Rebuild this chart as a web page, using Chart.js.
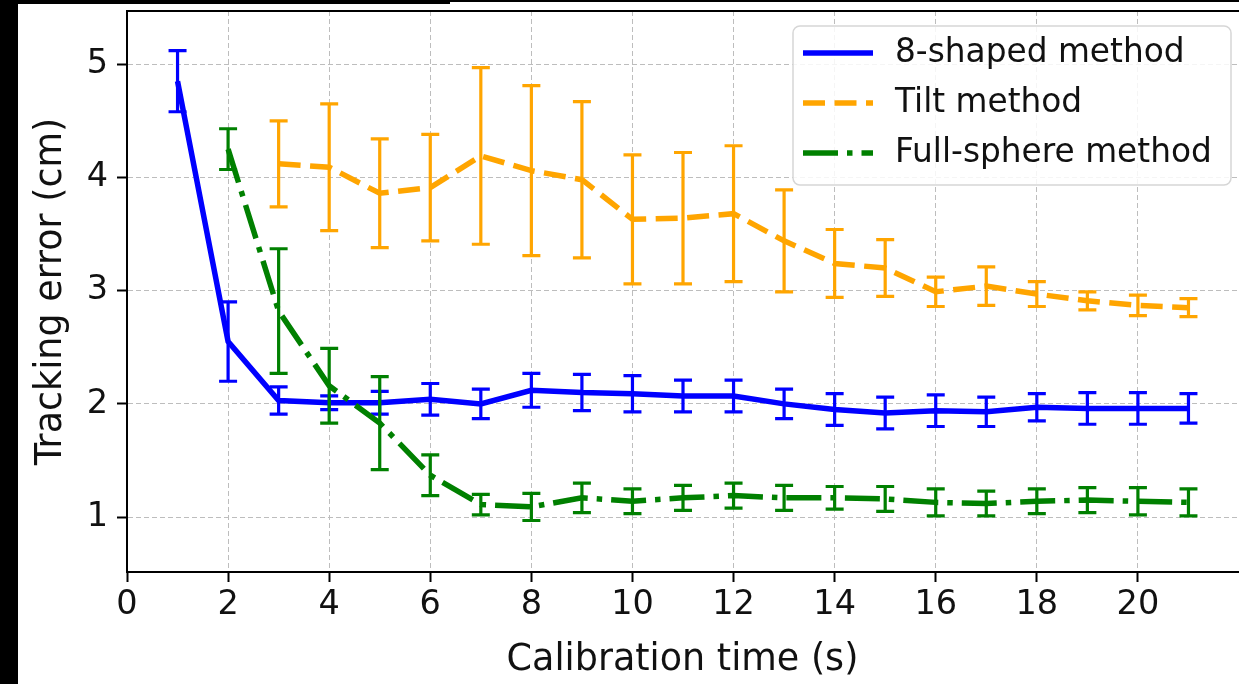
<!DOCTYPE html>
<html>
<head>
<meta charset="utf-8">
<script src="https://cdn.jsdelivr.net/npm/chart.js@4.4.1/dist/chart.umd.min.js"></script>
<style>
  html, body { margin: 0; padding: 0; background: #fff; }
  #wrap { width: 1239px; height: 684px; position: relative; }
</style>
</head>
<body>
<div id="wrap"><canvas id="c"></canvas></div>
<script>
// ---- data ----
const calibTime = [1,2,3,4,5,6,7,8,9,10,11,12,13,14,15,16,17,18,19,20,21];
const xTickLabels = ['0','2','4','6','8','10','12','14','16','18','20'];
const yTickLabels = ['1','2','3','4','5'];

const eightMean = [4.85, 2.55, 2.03, 2.01, 2.01, 2.04, 2.00, 2.12, 2.10, 2.09, 2.07, 2.07, 2.00, 1.95, 1.92, 1.94, 1.93, 1.97, 1.96, 1.96, 1.96];
const eightErr  = [0.27, 0.35, 0.12, 0.06, 0.10, 0.14, 0.13, 0.15, 0.16, 0.16, 0.14, 0.14, 0.13, 0.14, 0.14, 0.14, 0.13, 0.12, 0.14, 0.14, 0.13];

const tiltMean = [null, null, 4.12, 4.09, 3.86, 3.91, 4.19, 4.06, 3.98, 3.63, 3.64, 3.68, 3.44, 3.24, 3.20, 2.99, 3.04, 2.97, 2.91, 2.87, 2.85];
const tiltErr  = [null, null, 0.38, 0.56, 0.48, 0.47, 0.78, 0.75, 0.69, 0.57, 0.58, 0.60, 0.45, 0.30, 0.25, 0.13, 0.17, 0.11, 0.08, 0.09, 0.08];

const sphereMean = [null, 4.25, 2.82, 2.16, 1.83, 1.37, 1.11, 1.09, 1.17, 1.14, 1.17, 1.19, 1.17, 1.17, 1.16, 1.13, 1.12, 1.14, 1.15, 1.14, 1.13];
const sphereErr  = [null, 0.18, 0.55, 0.33, 0.41, 0.18, 0.09, 0.12, 0.13, 0.11, 0.11, 0.11, 0.11, 0.10, 0.11, 0.12, 0.11, 0.11, 0.11, 0.12, 0.12];

const seriesNames = ['8-shaped method', 'Tilt method', 'Full-sphere method'];
const xTitle = 'Calibration time (s)';
const yTitle = 'Tracking error (cm)';
// ---------------------------------------

const FONT = '"DejaVu Sans", "Liberation Sans", sans-serif';
const BLUE = '#0000ff', ORANGE = '#ffa500', GREEN = '#008000';
const LW = 5.5;
const DASH = [22, 9.5];
const DASHDOT = [35, 9, 5.5, 9];
const GRID = '#bdbdbd';

function pts(vals) {
  return calibTime.map((t, i) => ({ x: t, y: vals[i] }));
}

const bgPlugin = {
  id: 'bg',
  beforeDraw(chart) {
    const ctx = chart.ctx;
    ctx.save();
    ctx.fillStyle = '#fff';
    ctx.fillRect(0, 0, chart.width, chart.height);
    ctx.fillStyle = '#000';
    ctx.fillRect(0, 0, 18, chart.height);
    ctx.fillRect(0, 0, 450, 4);
    ctx.fillRect(450, 0, chart.width - 450, 2);
    ctx.restore();
  },
  afterDraw(chart) {
    const ctx = chart.ctx, a = chart.chartArea;
    ctx.save();
    ctx.strokeStyle = '#000';
    ctx.lineWidth = 2;
    ctx.beginPath();
    ctx.moveTo(a.left - 1, a.top);
    ctx.lineTo(chart.width, a.top);
    ctx.stroke();
    ctx.restore();
  }
};

const errPlugin = {
  id: 'errbars',
  afterDatasetDraw(chart, args) {
    const ds = chart.data.datasets[args.index];
    if (!ds.errs) return;
    const ctx = chart.ctx, xs = chart.scales.x, ys = chart.scales.y;
    ctx.save();
    ctx.strokeStyle = ds.borderColor;
    ctx.lineWidth = 3.2;
    ctx.setLineDash([]);
    ctx.lineCap = 'butt';
    const cap = 9;
    ds.data.forEach((p, i) => {
      const e = ds.errs[i];
      if (p.y == null || e == null) return;
      const px = xs.getPixelForValue(p.x);
      const top = ys.getPixelForValue(p.y + e);
      const bot = ys.getPixelForValue(p.y - e);
      ctx.beginPath();
      ctx.moveTo(px, top); ctx.lineTo(px, bot);
      ctx.moveTo(px - cap, top); ctx.lineTo(px + cap, top);
      ctx.moveTo(px - cap, bot); ctx.lineTo(px + cap, bot);
      ctx.stroke();
    });
    ctx.restore();
  }
};

const legendPlugin = {
  id: 'customLegend',
  afterDraw(chart) {
    const ctx = chart.ctx;
    const L = 793, T = 26, R = 1231, B = 185, r = 7;
    ctx.save();
    ctx.beginPath();
    ctx.moveTo(L + r, T);
    ctx.lineTo(R - r, T); ctx.arcTo(R, T, R, T + r, r);
    ctx.lineTo(R, B - r); ctx.arcTo(R, B, R - r, B, r);
    ctx.lineTo(L + r, B); ctx.arcTo(L, B, L, B - r, r);
    ctx.lineTo(L, T + r); ctx.arcTo(L, T, L + r, T, r);
    ctx.closePath();
    ctx.fillStyle = 'rgba(255,255,255,0.85)';
    ctx.fill();
    ctx.strokeStyle = '#d6d6d6';
    ctx.lineWidth = 1.5;
    ctx.stroke();
    const rows = [53, 103, 153];
    chart.data.datasets.forEach((ds, i) => {
      const y = rows[i];
      ctx.beginPath();
      ctx.strokeStyle = ds.borderColor;
      ctx.lineWidth = LW;
      ctx.lineCap = 'butt';
      ctx.setLineDash(ds.borderDash || []);
      ctx.moveTo(803, y); ctx.lineTo(873, y);
      ctx.stroke();
      ctx.setLineDash([]);
      ctx.fillStyle = '#111';
      ctx.font = '32.8px ' + FONT;
      ctx.textBaseline = 'middle';
      ctx.textAlign = 'left';
      ctx.fillText(seriesNames[i], 895, y);
    });
    ctx.restore();
  }
};

new Chart(document.getElementById('c'), {
  type: 'line',
  data: {
    datasets: [
      { label: seriesNames[0], data: pts(eightMean), errs: eightErr, borderColor: BLUE, backgroundColor: BLUE,
        borderWidth: LW, pointRadius: 0, tension: 0, order: 3, borderCapStyle: 'butt' },
      { label: seriesNames[1], data: pts(tiltMean), errs: tiltErr, borderColor: ORANGE, backgroundColor: ORANGE,
        borderWidth: LW, borderDash: DASH, pointRadius: 0, tension: 0, order: 2, borderCapStyle: 'butt' },
      { label: seriesNames[2], data: pts(sphereMean), errs: sphereErr, borderColor: GREEN, backgroundColor: GREEN,
        borderWidth: LW, borderDash: DASHDOT, pointRadius: 0, tension: 0, order: 1, borderCapStyle: 'butt' }
    ]
  },
  options: {
    responsive: true,
    maintainAspectRatio: false,
    animation: false,
    devicePixelRatio: 1,
    layout: { padding: { top: 11, right: 1, left: 0, bottom: 0 } },
    plugins: { legend: { display: false }, title: { display: false }, tooltip: { enabled: false } },
    scales: {
      x: {
        type: 'linear', min: 0, max: 21.98,
        afterFit(s) { s.height = 112; s.paddingLeft = 0; s.paddingRight = 0; },
        ticks: {
          stepSize: 2, includeBounds: false, color: '#111', padding: 3,
          font: { family: FONT, size: 33.5 },
          callback: (v) => xTickLabels.includes(String(v)) ? String(v) : ''
        },
        grid: { color: GRID, lineWidth: 1, tickColor: '#000', tickWidth: 2, tickLength: 10, tickBorderDash: [] },
        border: { display: true, color: '#000', width: 2, dash: [5, 3] },
        title: { display: true, text: xTitle, color: '#111', font: { family: FONT, size: 36.5 }, padding: { top: 0, bottom: 2 } }
      },
      y: {
        type: 'linear', min: 0.515, max: 5.47,
        afterFit(s) { s.width = 127; s.paddingTop = 0; s.paddingBottom = 0; },
        ticks: {
          stepSize: 1, includeBounds: false, color: '#111', padding: 9,
          font: { family: FONT, size: 33.5 },
          callback: (v) => yTickLabels.includes(String(v)) ? String(v) : ''
        },
        grid: { color: GRID, lineWidth: 1, tickColor: '#000', tickWidth: 2, tickLength: 10, tickBorderDash: [] },
        border: { display: true, color: '#000', width: 2, dash: [5, 3] },
        title: { display: true, text: yTitle, color: '#111', font: { family: FONT, size: 36.5 }, padding: { top: 30, bottom: 0 } }
      }
    }
  },
  plugins: [bgPlugin, errPlugin, legendPlugin]
});
</script>
</body>
</html>
